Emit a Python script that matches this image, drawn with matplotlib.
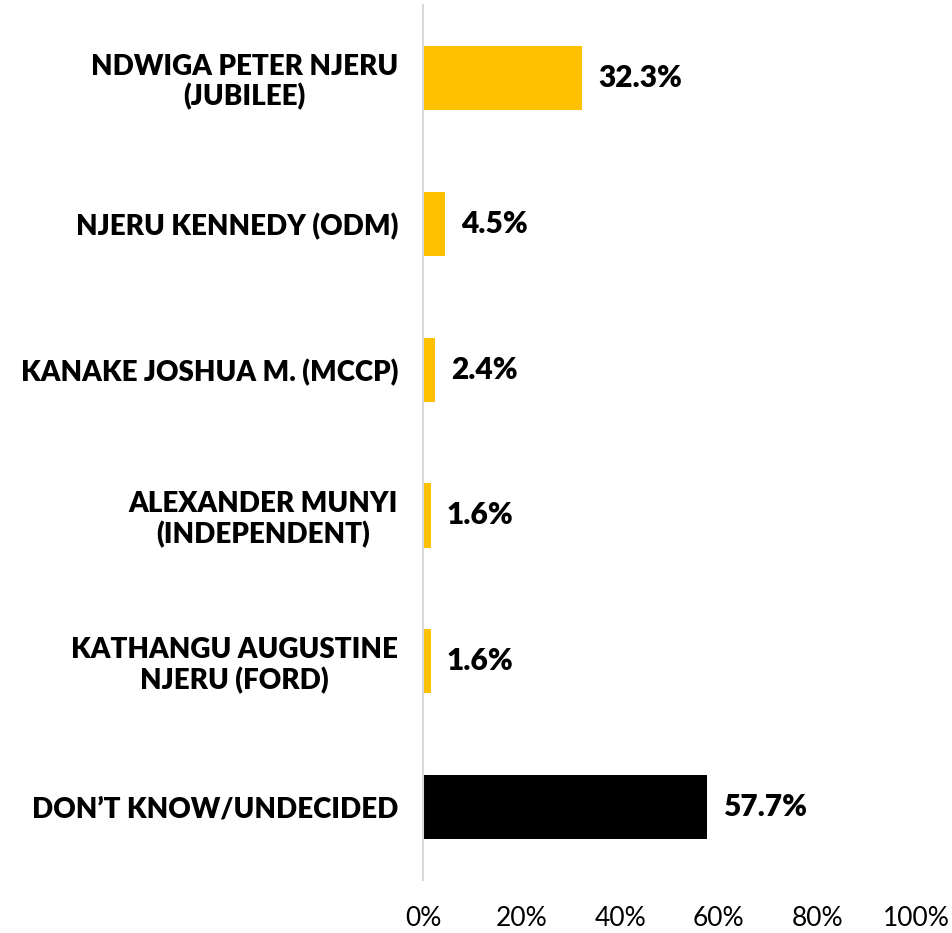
import matplotlib
matplotlib.use("Agg")
import matplotlib.pyplot as plt
from matplotlib.ticker import FuncFormatter

categories = [
    "NDWIGA PETER NJERU\n(JUBILEE)",
    "NJERU KENNEDY (ODM)",
    "KANAKE JOSHUA M. (MCCP)",
    "ALEXANDER MUNYI\n(INDEPENDENT)",
    "KATHANGU AUGUSTINE\nNJERU (FORD)",
    "DON\u2019T KNOW/UNDECIDED",
]
values = [32.3, 4.5, 2.4, 1.6, 1.6, 57.7]
colors = ["#FFC000", "#FFC000", "#FFC000", "#FFC000", "#FFC000", "#000000"]
xticks = [0, 20, 40, 60, 80, 100]

plt.rcParams["font.family"] = ["Lato", "DejaVu Sans"]

fig = plt.figure(figsize=(9.53, 9.33), dpi=100)
ax = fig.add_axes([0.4439, 0.0568, 0.5173, 0.9378])

y = list(range(len(categories)))
ax.barh(y, values, height=0.44, color=colors, zorder=2)
ax.set_ylim(len(categories) - 0.5, -0.5)
ax.set_xlim(0, 100)

for yi, v in zip(y, values):
    ax.text(v + 3.2, yi, f"{v:.1f}%", va="center", ha="left",
            fontsize=21.5, fontweight="heavy", color="#000000")

ax.set_yticks(y)
ax.set_yticklabels(categories, fontsize=20, fontweight="heavy",
                   linespacing=1.15, ha="right")
ax.tick_params(axis="y", length=0, pad=18)
for lbl in ax.get_yticklabels():
    lbl.set_multialignment("center")

ax.set_xticks(xticks)
ax.xaxis.set_major_formatter(FuncFormatter(lambda x, p: f"{x:.0f}%"))
ax.tick_params(axis="x", length=0, labelsize=19, pad=19)

for s in ["top", "right", "bottom"]:
    ax.spines[s].set_visible(False)
ax.spines["left"].set_color("#D9D9D9")
ax.spines["left"].set_linewidth(1.5)

fig.savefig("out.png", dpi=100)
